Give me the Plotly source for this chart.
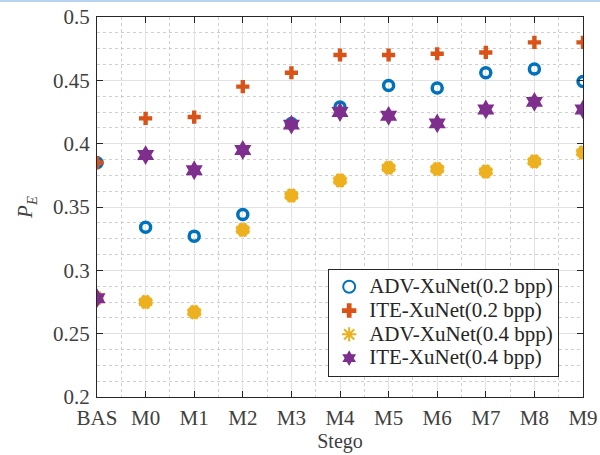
import plotly.graph_objects as go

# Stego sets on the horizontal axis
categories = ["BAS", "M0", "M1", "M2", "M3", "M4", "M5", "M6", "M7", "M8", "M9"]

# Series names shown in the legend
series_names = ["ADV-XuNet(0.2 bpp)", "ITE-XuNet(0.2 bpp)",
                "ADV-XuNet(0.4 bpp)", "ITE-XuNet(0.4 bpp)"]

# Detection error P_E for each detector / payload
adv_02 = [0.385, 0.334, 0.327, 0.344, 0.416, 0.429, 0.446, 0.444, 0.456, 0.459, 0.449]
ite_02 = [0.385, 0.420, 0.421, 0.445, 0.456, 0.470, 0.470, 0.471, 0.472, 0.480, 0.480]
adv_04 = [0.278, 0.275, 0.267, 0.332, 0.359, 0.371, 0.381, 0.380, 0.378, 0.386, 0.393]
ite_04 = [0.278, 0.391, 0.379, 0.395, 0.415, 0.425, 0.422, 0.416, 0.427, 0.433, 0.427]

y_ticks = [0.2, 0.25, 0.3, 0.35, 0.4, 0.45, 0.5]
y_tick_text = ["0.2", "0.25", "0.3", "0.35", "0.4", "0.45", "0.5"]

xpos = list(range(len(categories)))

FONT = "Liberation Serif"
AX = "#262626"
TXT = "#404040"


def legend_label(text):
    # larger glyphs than the legend's nominal size keep the rows compact
    return f'<span style="font-size:21px">{text}</span>'


fig = go.Figure()

fig.add_trace(go.Scatter(
    x=xpos, y=adv_02, mode="markers", name=legend_label(series_names[0]),
    marker=dict(symbol="circle-open", size=10, color="#0072BD",
                line=dict(width=3.5, color="#0072BD")),
))
fig.add_trace(go.Scatter(
    x=xpos, y=ite_02, mode="markers", name=legend_label(series_names[1]),
    marker=dict(symbol="cross", size=11, color="#D95319",
                line=dict(width=0)),
))
fig.add_trace(go.Scatter(
    x=xpos, y=adv_04, mode="markers", name=legend_label(series_names[2]),
    marker=dict(symbol="asterisk-open", size=11, color="#EDB120",
                line=dict(width=8, color="#EDB120")),
))
fig.add_trace(go.Scatter(
    x=xpos, y=ite_04, mode="markers", name=legend_label(series_names[3]),
    marker=dict(symbol="hexagram", size=15, color="#7E2F8E",
                line=dict(width=0)),
))

L, R, T, B = 97, 17, 17, 58
W, H = 600, 455
ph = H - T - B

axis_common = dict(
    showline=True, linecolor=AX, linewidth=1.2, mirror="ticks",
    ticks="inside", ticklen=6, tickcolor=AX, tickwidth=1.2,
    showgrid=True, gridcolor="#e2e2e2", gridwidth=1,
    zeroline=False, automargin=False,
    tickfont=dict(family=FONT, size=21, color=TXT),
)

fig.update_xaxes(
    range=[0, len(categories) - 1],
    tickmode="array", tickvals=xpos, ticktext=categories,
    ticklabelstandoff=2,
    minor=dict(dtick=0.5, tick0=0, showgrid=True, gridcolor="#cfcfcf",
               griddash="dot", gridwidth=1, ticks=""),
    title=dict(text="Stego", font=dict(family=FONT, size=20, color=TXT), standoff=0),
    **axis_common,
)
fig.update_yaxes(
    range=[0.2, 0.5],
    tickmode="array", tickvals=y_ticks, ticktext=y_tick_text,
    ticklabelstandoff=2,
    minor=dict(dtick=0.0125, tick0=0.2, showgrid=True, gridcolor="#cfcfcf",
               griddash="dot", gridwidth=1, ticks=""),
    title=dict(text="<i>P</i><sub><i>E</i></sub>",
               font=dict(family=FONT, size=21, color=TXT), standoff=14),
    **axis_common,
)

fig.update_layout(
    width=W, height=H,
    margin=dict(l=L, r=R, t=T, b=B, pad=0, autoexpand=False),
    paper_bgcolor="white", plot_bgcolor="white",
    font=dict(family=FONT, color=TXT),
    showlegend=True,
    legend=dict(
        x=0.951, y=0.053, xanchor="right", yanchor="bottom",
        bgcolor="white", bordercolor=AX, borderwidth=1,
        font=dict(family=FONT, size=16, color="#262626"),
        tracegroupgap=0, itemsizing="constant", itemwidth=30,
    ),
    shapes=[dict(
        type="line", xref="paper", yref="paper",
        x0=-L / (W - L - R), x1=1 + R / (W - L - R),
        y0=1 + (T - 1) / ph, y1=1 + (T - 1) / ph,
        line=dict(color="#b7d3f0", width=2),
    )],
)

fig.write_html("out.html")
